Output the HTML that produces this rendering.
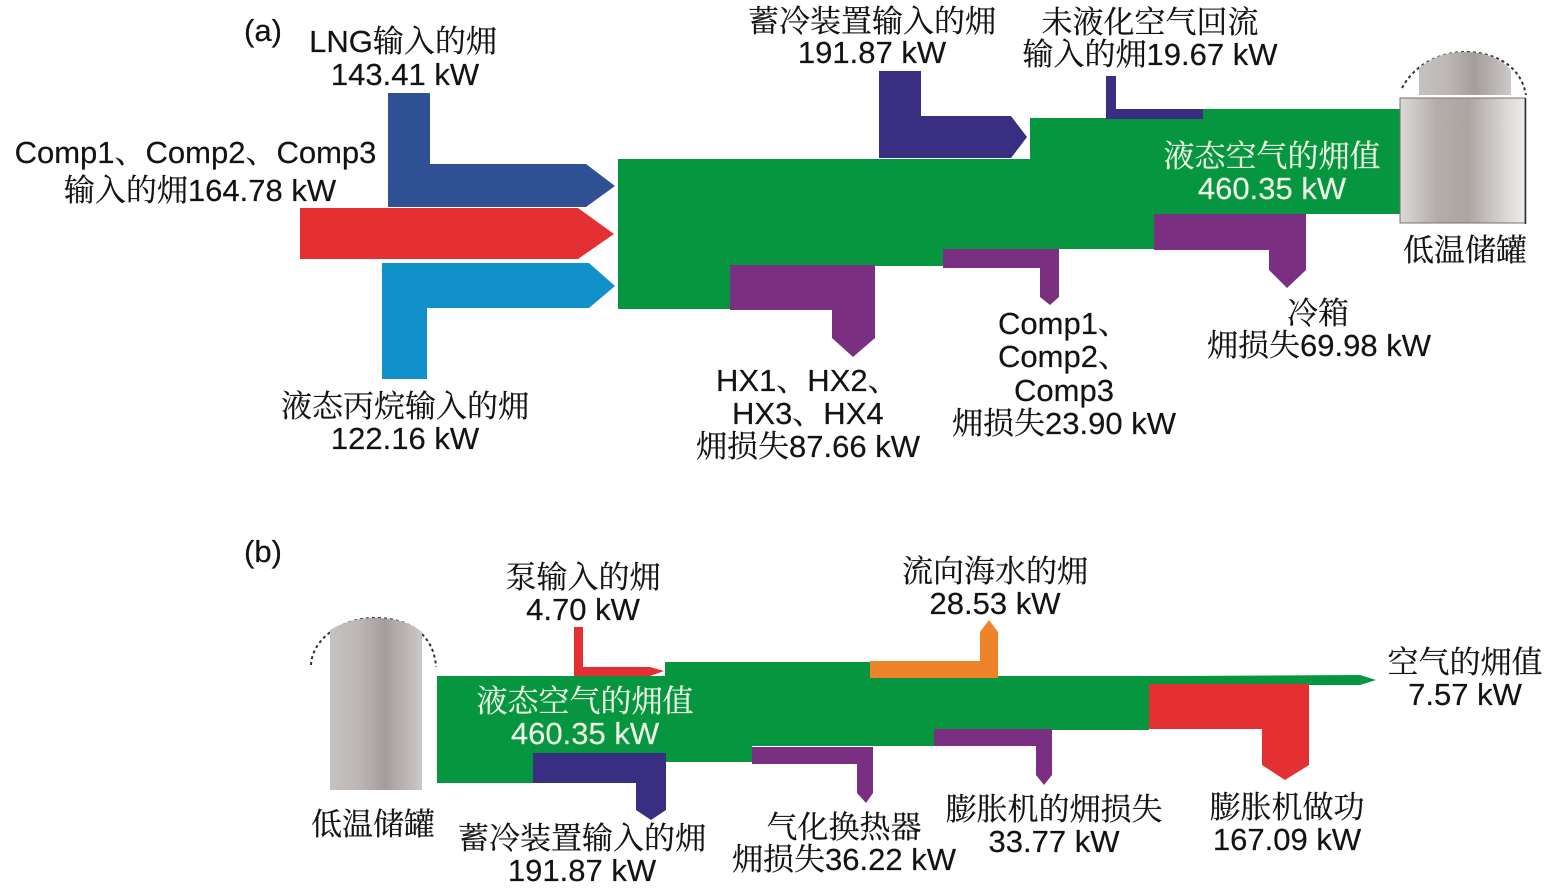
<!DOCTYPE html>
<html lang="zh">
<head>
<meta charset="utf-8">
<style>
html,body{margin:0;padding:0;background:#fff;}
svg{display:block;}
text{font-family:"Liberation Sans","Noto Serif CJK SC",serif;font-size:31px;fill:#141212;text-anchor:middle;stroke:#141212;stroke-width:.2px;}
text.w{fill:#eef6e6;stroke:#eef6e6;}
text.l{text-anchor:start;}
</style>
</head>
<body>
<svg width="1554" height="890" viewBox="0 0 1554 890" xmlns="http://www.w3.org/2000/svg">
<defs>
<linearGradient id="t1" x1="0" x2="1" y1="0" y2="0">
<stop offset="0" stop-color="#dcd9d6"/><stop offset=".3" stop-color="#b3adaa"/><stop offset=".55" stop-color="#aca6a3"/><stop offset=".85" stop-color="#dbd8d5"/><stop offset="1" stop-color="#eeecea"/>
</linearGradient>
<linearGradient id="t2" x1="0" x2="1" y1="0" y2="0">
<stop offset="0" stop-color="#c5c1be"/><stop offset=".3" stop-color="#bdb8b5"/><stop offset=".6" stop-color="#a39d9b"/><stop offset="1" stop-color="#cdc9c6"/>
</linearGradient>
</defs>

<!-- (a) inputs -->
<polygon fill="#2f5092" points="388,93 430,93 430,164 586,164 615,186 586,207 388,207"/>
<polygon fill="#e53033" points="300,208 578,208 614,234 578,259 300,259"/>
<polygon fill="#1191c9" points="382,263 589,263 615,286 589,308 427,308 427,379 382,379"/>
<!-- (a) main flow -->
<polygon fill="#05963f" points="618,159 1030,159 1030,118 1203,118 1203,109 1400,109 1400,214 1154,214 1154,249 943,249 943,266 730,266 730,309 618,309"/>
<polygon fill="#3a2e82" points="879,71 921,71 921,116 1011,116 1027,137 1011,158 879,158"/>
<polygon fill="#3a2e82" points="1106,76 1116,76 1116,109 1203,109 1203,119 1106,119"/>
<polygon fill="#7b2f80" points="730,265 875,265 875,338 853,357 832,338 832,310 730,310"/>
<polygon fill="#7b2f80" points="943,249 1059,249 1059,297 1050,305 1040,297 1040,268 943,268"/>
<polygon fill="#7b2f80" points="1154,214 1306,214 1306,270 1287,288 1269,270 1269,250 1154,250"/>
<!-- (a) tank -->
<path d="M1402,88 C1418,58 1450,52 1465,52 C1490,52 1520,62 1526,95" fill="none" stroke="#333" stroke-width="2" stroke-dasharray="3 3"/>
<path d="M1419,95 L1419,68 C1435,55 1450,52 1465,52 C1485,52 1500,58 1511,70 L1511,95 Z" fill="url(#t2)"/>
<rect x="1400" y="98" width="125" height="125" fill="url(#t1)" stroke="#77716f" stroke-width="1"/>
<line x1="1525.500" y1="98" x2="1525.500" y2="224" stroke="#2e2c2c" stroke-width="1.500"/>

<!-- (b) main flow -->
<polygon fill="#05963f" points="437,676 665,676 665,662 870,662 870,676 1183,676 1360,675 1376,680 1360,685 1149,685 1149,730 1052,730 1052,729 934,729 934,746 752,746 752,762 666,762 666,753 533,753 533,783 437,783"/>
<polygon fill="#e53033" points="574,627 583,627 583,667 650,667 664,671 650,676 574,676"/>
<polygon fill="#ee8329" points="870,661 980,661 980,632 989,620 998,632 998,678 870,678"/>
<polygon fill="#e53033" points="1149,684 1309,684 1309,765 1285,780 1262,765 1262,729 1149,729"/>
<polygon fill="#7b2f80" points="934,729 1052,729 1052,775 1044,785 1036,775 1036,746 934,746"/>
<polygon fill="#7b2f80" points="752,747 873,747 873,793 866,803 857,793 857,764 752,764"/>
<polygon fill="#3a2e82" points="533,753 666,753 666,810 651,820 636,810 636,783 533,783"/>
<!-- (b) tank -->
<path d="M311,665 C312,640 340,618 375,618 C410,618 434,635 436,667" fill="none" stroke="#333" stroke-width="2" stroke-dasharray="3 3"/>
<path d="M330,790 L330,630 C345,621 360,618 375,618 C392,618 410,622 422,632 L422,790 Z" fill="url(#t2)"/>

<!-- labels (a) -->
<text class="l" x="244" y="41">(a)</text>
<text x="403" y="52">LNG输入的㶲</text>
<text x="405" y="85">143.41 kW</text>
<text x="195.500" y="163">Comp1、Comp2、Comp3</text>
<text x="200" y="201">输入的㶲164.78 kW</text>
<text x="405" y="417">液态丙烷输入的㶲</text>
<text x="405" y="449">122.16 kW</text>
<text x="872" y="32">蓄冷装置输入的㶲</text>
<text x="872" y="63">191.87 kW</text>
<text x="1150" y="33">未液化空气回流</text>
<text x="1150" y="65">输入的㶲19.67 kW</text>
<text class="w" x="1272" y="167">液态空气的㶲值</text>
<text class="w" x="1272" y="199">460.35 kW</text>
<text x="1465" y="261">低温储罐</text>
<text x="1318" y="324">冷箱</text>
<text x="1319" y="356">㶲损失69.98 kW</text>
<text class="l" x="998" y="334">Comp1、</text>
<text class="l" x="998" y="367">Comp2、</text>
<text x="1064" y="401">Comp3</text>
<text x="1064" y="434">㶲损失23.90 kW</text>
<text class="l" x="716" y="391">HX1、HX2、</text>
<text class="l" x="732" y="424">HX3、HX4</text>
<text x="808" y="457">㶲损失87.66 kW</text>

<!-- labels (b) -->
<text class="l" x="244" y="562">(b)</text>
<text x="583" y="588">泵输入的㶲</text>
<text x="583" y="620">4.70 kW</text>
<text x="995" y="582">流向海水的㶲</text>
<text x="995" y="614">28.53 kW</text>
<text x="1465" y="673">空气的㶲值</text>
<text x="1465" y="705">7.57 kW</text>
<text class="w" x="585" y="712">液态空气的㶲值</text>
<text class="w" x="585" y="744">460.35 kW</text>
<text x="373" y="835">低温储罐</text>
<text x="582" y="849">蓄冷装置输入的㶲</text>
<text x="582" y="881">191.87 kW</text>
<text x="844" y="838">气化换热器</text>
<text x="844" y="870">㶲损失36.22 kW</text>
<text x="1054" y="820">膨胀机的㶲损失</text>
<text x="1054" y="852">33.77 kW</text>
<text x="1287" y="818">膨胀机做功</text>
<text x="1287" y="850">167.09 kW</text>
</svg>
</body>
</html>
